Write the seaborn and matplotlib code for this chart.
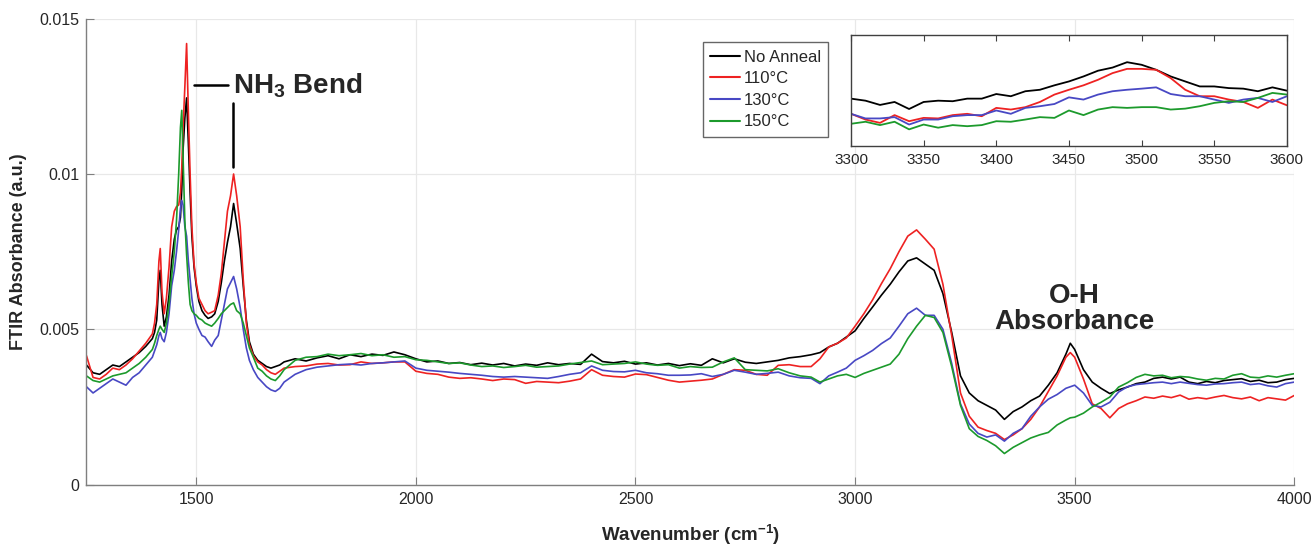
import matplotlib
matplotlib.use("Agg")
import matplotlib.pyplot as plt
import matplotlib.ticker as mticker
import seaborn as sns
import pandas as pd


SAMPLES = ["No Anneal", "110°C", "130°C", "150°C"]
COLORS = ["#000000", "#ee2222", "#4848c4", "#1c9a2c"]

# wavenumber grid (cm-1), denser around the NH3 peaks
WAVENUMBER = (
    [1250, 1265, 1280, 1295, 1310, 1325, 1340, 1355, 1370, 1385, 1400]
    + [1405, 1410, 1415, 1418, 1422, 1427, 1432, 1438, 1444, 1450, 1455,
       1460, 1464, 1467, 1470, 1474, 1478, 1482, 1486, 1490, 1495, 1500]
    + [1506, 1513, 1520, 1527, 1535, 1542, 1550, 1557, 1564, 1571, 1578,
       1585, 1592, 1600, 1607, 1614, 1621, 1630, 1640]
    + [1650, 1660, 1670, 1680, 1690, 1700]
    + list(range(1725, 2901, 25))
    + list(range(2920, 3481, 20)) + [3490] + list(range(3500, 4001, 20))
)

# absorbance values, in units of 1e-3
NO_ANNEAL = [
    3.85, 3.60, 3.55, 3.70, 3.85, 3.80, 3.95, 4.10, 4.25, 4.45, 4.70,
    4.9, 5.3, 6.6, 6.9, 5.8, 5.1, 5.4, 6.1, 7.2, 7.9, 8.2, 8.3, 8.6, 9.5,
    10.8, 11.8, 12.45, 11.0, 9.4, 8.0, 7.0, 6.4,
    5.9, 5.6, 5.45, 5.35, 5.4, 5.5, 5.9, 6.5, 7.2, 7.8, 8.3, 9.05, 8.4,
    7.6, 6.4, 5.3, 4.6, 4.2, 4.0,
    3.90, 3.80, 3.75, 3.80, 3.85, 3.95,
    4.05, 3.98, 4.08, 4.15, 4.05, 4.18, 4.12, 4.20, 4.16, 4.27, 4.18, 4.05,
    3.95, 3.98, 3.90, 3.93, 3.86, 3.91, 3.85, 3.90, 3.82, 3.88, 3.84, 3.92,
    3.86, 3.90, 3.87, 4.20, 3.96, 3.92, 3.97, 3.88, 3.92, 3.85, 3.90, 3.83,
    3.89, 3.84, 4.05, 3.92, 4.05, 3.94, 3.90, 3.95, 4.00, 4.08, 4.12, 4.18,
    4.25, 4.43, 4.55, 4.75, 4.95, 5.35, 5.72, 6.10, 6.45, 6.85, 7.20, 7.30,
    7.10, 6.90, 6.15, 4.90, 3.50, 2.95, 2.70, 2.55, 2.40, 2.10, 2.35, 2.50,
    2.70, 2.85, 3.20, 3.60, 4.20, 4.55, 4.35, 3.70, 3.30, 3.10, 2.93, 3.05,
    3.14, 3.25, 3.30, 3.42, 3.46, 3.40, 3.46, 3.30, 3.25, 3.32, 3.28, 3.35,
    3.38, 3.41, 3.32, 3.36, 3.28, 3.30, 3.38, 3.42,
]
T110 = [
    4.15, 3.45, 3.40, 3.55, 3.75, 3.70, 3.85, 4.05, 4.30, 4.55, 4.85,
    5.2, 5.8, 7.2, 7.6, 6.2, 5.5, 6.0, 7.0, 8.3, 8.8, 8.95, 9.0, 9.4, 10.2,
    11.5, 12.8, 14.2, 12.0, 10.0, 8.3, 7.1, 6.5,
    6.0, 5.8, 5.6, 5.5, 5.55, 5.6, 6.1, 6.8, 7.8, 8.8, 9.3, 10.0, 9.3,
    8.3, 6.6, 5.2, 4.5, 4.15, 3.95,
    3.85, 3.70, 3.60, 3.55, 3.65, 3.75,
    3.80, 3.82, 3.88, 3.90, 3.85, 3.86, 3.95, 3.90, 3.92, 3.95, 3.95, 3.65,
    3.58, 3.55, 3.46, 3.42, 3.44, 3.40, 3.35, 3.40, 3.38, 3.26, 3.32, 3.30,
    3.28, 3.33, 3.40, 3.70, 3.52, 3.48, 3.46, 3.56, 3.54, 3.45, 3.36, 3.30,
    3.33, 3.36, 3.40, 3.55, 3.70, 3.68, 3.55, 3.52, 3.84, 3.86, 3.80, 3.80,
    4.05, 4.43, 4.55, 4.72, 5.10, 5.50, 5.95, 6.47, 6.95, 7.50, 8.00, 8.20,
    7.90, 7.58, 6.45, 4.80, 2.95, 2.20, 1.85, 1.74, 1.65, 1.45, 1.60, 1.80,
    2.10, 2.50, 3.00, 3.50, 4.10, 4.25, 4.10, 3.40, 2.60, 2.45, 2.15, 2.45,
    2.60, 2.70, 2.82, 2.78, 2.85, 2.80, 2.88, 2.75, 2.80, 2.76, 2.82, 2.87,
    2.80, 2.76, 2.82, 2.70, 2.80, 2.76, 2.72, 2.87,
]
T130 = [
    3.15, 2.95, 3.10, 3.25, 3.40, 3.30, 3.20, 3.45, 3.60, 3.85, 4.10,
    4.3, 4.5, 4.8, 4.9, 4.7, 4.6, 4.9, 5.5, 6.4, 6.9, 7.5, 8.2, 8.9, 9.15,
    9.0, 8.3, 8.0, 7.2, 6.6, 6.0, 5.5, 5.2,
    5.0, 4.8, 4.75, 4.6, 4.45, 4.65, 4.8, 5.3, 5.8, 6.3, 6.5, 6.7, 6.3,
    5.7, 5.0, 4.4, 4.0, 3.7, 3.45,
    3.30, 3.15, 3.05, 3.00, 3.10, 3.30,
    3.55, 3.70, 3.78, 3.82, 3.86, 3.88, 3.85, 3.90, 3.92, 3.95, 3.98, 3.75,
    3.68, 3.65, 3.62, 3.58, 3.55, 3.52, 3.48, 3.46, 3.48, 3.46, 3.44, 3.42,
    3.48, 3.55, 3.60, 3.82, 3.68, 3.64, 3.63, 3.68, 3.60, 3.57, 3.52, 3.52,
    3.53, 3.57, 3.48, 3.55, 3.68, 3.62, 3.55, 3.58, 3.62, 3.50, 3.44, 3.42,
    3.25, 3.50, 3.62, 3.75, 4.00, 4.15, 4.32, 4.54, 4.72, 5.10, 5.50, 5.68,
    5.45, 5.45, 5.00, 3.90, 2.60, 1.95, 1.65, 1.53, 1.60, 1.40, 1.65, 1.80,
    2.20, 2.50, 2.75, 2.90, 3.10, 3.15, 3.20, 2.95, 2.55, 2.50, 2.65, 2.98,
    3.15, 3.22, 3.25, 3.28, 3.30, 3.25, 3.30, 3.26, 3.22, 3.20, 3.24, 3.25,
    3.28, 3.30, 3.22, 3.25, 3.18, 3.14, 3.25, 3.30,
]
T150 = [
    3.50, 3.35, 3.30, 3.40, 3.50, 3.55, 3.60, 3.75, 3.90, 4.10, 4.35,
    4.55, 4.8, 5.0, 5.1, 5.0, 4.9, 5.2, 5.8, 6.7, 7.5, 8.5, 10.0, 11.5, 12.05,
    10.5, 8.5, 7.4, 6.5, 5.8, 5.6, 5.5, 5.45,
    5.35, 5.3, 5.2, 5.15, 5.1, 5.2, 5.35, 5.5, 5.6, 5.7, 5.8, 5.85, 5.6,
    5.5, 5.2, 4.8, 4.4, 4.1, 3.75,
    3.65, 3.50, 3.40, 3.35, 3.50, 3.70,
    4.00, 4.10, 4.12, 4.20, 4.15, 4.18, 4.22, 4.15, 4.18, 4.10, 4.12, 4.02,
    4.00, 3.95, 3.90, 3.92, 3.85, 3.80, 3.82, 3.77, 3.80, 3.84, 3.78, 3.80,
    3.82, 3.88, 3.93, 3.98, 3.86, 3.88, 3.90, 3.95, 3.88, 3.84, 3.86, 3.75,
    3.80, 3.77, 3.78, 3.95, 4.08, 3.70, 3.68, 3.66, 3.73, 3.60, 3.50, 3.46,
    3.30, 3.40, 3.50, 3.55, 3.45, 3.58, 3.68, 3.78, 3.88, 4.20, 4.70, 5.10,
    5.45, 5.38, 4.90, 3.80, 2.55, 1.80, 1.55, 1.42, 1.25, 1.00, 1.20, 1.35,
    1.50, 1.60, 1.68, 1.92, 2.08, 2.15, 2.17, 2.30, 2.50, 2.65, 2.82, 3.14,
    3.28, 3.45, 3.55, 3.50, 3.52, 3.44, 3.48, 3.46, 3.40, 3.36, 3.42, 3.40,
    3.52, 3.57, 3.46, 3.44, 3.50, 3.46, 3.52, 3.57,
]

# zoomed O-H region shown in the inset (absorbance x 1e-3)
INSET_WAVENUMBER = list(range(3300, 3601, 10))
INSET_NO_ANNEAL = [
    2.56, 2.45, 2.22, 2.38, 2.00, 2.38, 2.45, 2.42, 2.56, 2.56, 2.81, 2.69,
    2.96, 3.04, 3.28, 3.49, 3.76, 4.07, 4.24, 4.53, 4.39, 4.12, 3.76, 3.49,
    3.22, 3.22, 3.13, 3.10, 2.96, 3.17, 2.99,
]
INSET_T110 = [
    1.74, 1.43, 1.25, 1.67, 1.34, 1.52, 1.49, 1.67, 1.74, 1.61, 2.06, 1.97,
    2.10, 2.38, 2.78, 3.04, 3.28, 3.58, 3.94, 4.17, 4.17, 4.12, 3.67, 3.04,
    2.69, 2.69, 2.51, 2.38, 2.06, 2.51, 2.20,
]
INSET_T130 = [
    1.74, 1.49, 1.49, 1.56, 1.16, 1.43, 1.43, 1.61, 1.67, 1.67, 1.92, 1.74,
    2.06, 2.15, 2.27, 2.63, 2.51, 2.78, 2.96, 3.04, 3.10, 3.17, 2.81, 2.69,
    2.69, 2.51, 2.33, 2.51, 2.60, 2.38, 2.69,
]
INSET_T150 = [
    1.20, 1.31, 1.13, 1.31, 0.90, 1.16, 0.99, 1.13, 1.07, 1.13, 1.34, 1.31,
    1.43, 1.56, 1.52, 1.92, 1.67, 1.97, 2.10, 2.06, 2.10, 2.10, 1.97, 2.02,
    2.15, 2.33, 2.42, 2.38, 2.60, 2.87, 2.78,
]


def to_frame(wavenumber, series):
    rows = []
    for name, values in zip(SAMPLES, series):
        for wn, a in zip(wavenumber, values):
            rows.append({"Wavenumber": wn, "Absorbance": a * 1e-3, "Sample": name})
    return pd.DataFrame(rows)


spectra = to_frame(WAVENUMBER, [NO_ANNEAL, T110, T130, T150])
inset_spectra = to_frame(
    INSET_WAVENUMBER, [INSET_NO_ANNEAL, INSET_T110, INSET_T130, INSET_T150]
)
palette = dict(zip(SAMPLES, COLORS))

sns.set_style("white")
plt.rcParams["font.family"] = ["Liberation Sans", "DejaVu Sans"]
plt.rcParams["mathtext.fontset"] = "custom"
plt.rcParams["mathtext.rm"] = "Liberation Sans"
plt.rcParams["mathtext.bf"] = "Liberation Sans:bold"
plt.rcParams["mathtext.it"] = "Liberation Sans:italic"

fig = plt.figure(figsize=(13.12, 5.47), dpi=100)
ax = fig.add_axes([0.0659, 0.1141, 0.9206, 0.8517])

sns.lineplot(
    data=spectra, x="Wavenumber", y="Absorbance", hue="Sample",
    hue_order=SAMPLES, palette=palette, linewidth=1.2, sort=False,
    estimator=None, ax=ax,
)

ax.set_xlim(1250, 4000)
ax.set_ylim(0, 0.015)
ax.set_xticks([1500, 2000, 2500, 3000, 3500, 4000])
ax.set_yticks([0, 0.005, 0.01, 0.015])
ax.yaxis.set_major_formatter(mticker.FuncFormatter(lambda v, p: f"{v:g}"))
ax.grid(True, color="#e8e8e8", linewidth=0.9)
for side in ["top", "right"]:
    ax.spines[side].set_visible(False)
for side in ["left", "bottom"]:
    ax.spines[side].set_color("#7f7f7f")
    ax.spines[side].set_linewidth(1.0)
ax.tick_params(direction="in", length=6, color="#7f7f7f", labelsize=11.5,
               labelcolor="#262626", pad=5, left=True, bottom=True)

ax.set_xlabel(r"Wavenumber (cm$^{\mathbf{-1}}$)", fontsize=13.5, fontweight="bold")
ax.set_ylabel("FTIR Absorbance (a.u.)", fontsize=13, fontweight="bold")
ax.xaxis.set_label_coords(0.5, -0.082)
ax.yaxis.set_label_coords(-0.049, 0.5)

# annotations
ax.plot([1494, 1572], [0.01287, 0.01287], color="black", linewidth=1.8)
ax.plot([1583, 1583], [0.01229, 0.01023], color="black", linewidth=1.8)
ax.text(1583, 0.01258, r"NH$_{\mathbf{3}}$ Bend", fontsize=20,
        fontweight="bold", ha="left", va="baseline")
ax.text(3500, 0.00565, "O-H\nAbsorbance", fontsize=20, fontweight="bold",
        ha="center", va="center", linespacing=1.0)

sns.move_legend(
    ax, "upper left", bbox_to_anchor=(703 / 1312, 1 - 42 / 547),
    bbox_transform=fig.transFigure, title=None, frameon=True, fontsize=12,
    borderaxespad=0, fancybox=False, handlelength=1.8, handletextpad=0.2,
    labelspacing=0.4, borderpad=0.45,
)
leg = ax.get_legend()
leg.get_frame().set_edgecolor("#404040")
leg.get_frame().set_linewidth(1.0)
for line in leg.get_lines():
    line.set_linewidth(1.5)

# inset
axin = fig.add_axes([0.6486, 0.7331, 0.3323, 0.2029])
sns.lineplot(
    data=inset_spectra, x="Wavenumber", y="Absorbance", hue="Sample",
    hue_order=SAMPLES, palette=palette, linewidth=1.3, sort=False,
    estimator=None, legend=False, ax=axin,
)
axin.set_xlim(3300, 3600)
axin.set_ylim(0, 0.006)
axin.set_xticks([3300, 3350, 3400, 3450, 3500, 3550, 3600])
axin.set_yticks([])
axin.set_xlabel("")
axin.set_ylabel("")
for side in axin.spines.values():
    side.set_color("#404040")
    side.set_linewidth(1.0)
axin.tick_params(direction="in", length=4, color="#404040", labelsize=11,
                 labelcolor="#262626", top=True, bottom=True, pad=5)

fig.savefig("out.png", dpi=100)
